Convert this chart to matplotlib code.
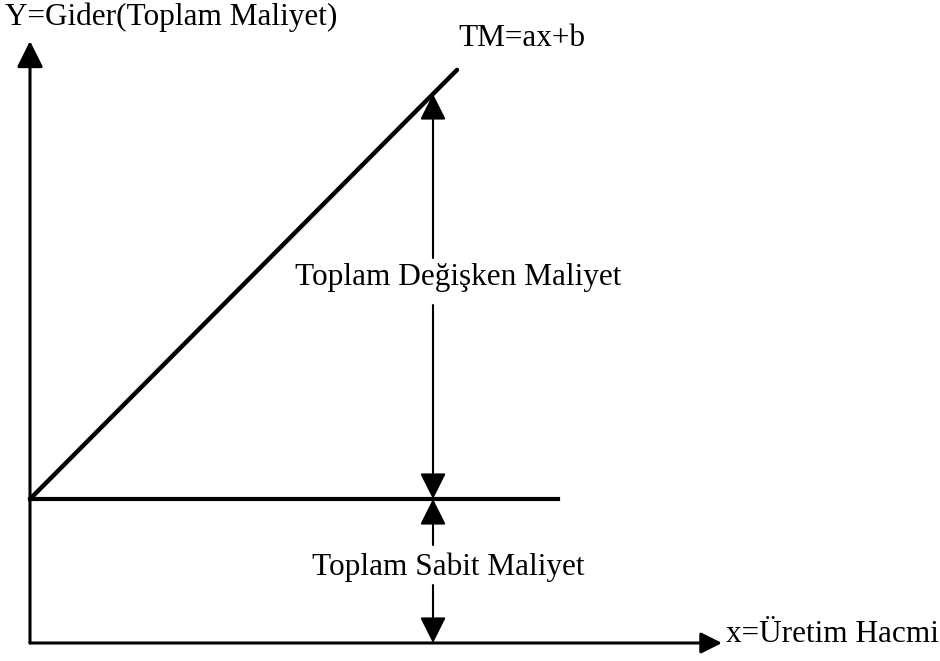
import matplotlib
matplotlib.use("Agg")
import matplotlib.pyplot as plt

# Maliyet modeli: TM = a*x + b  (birimler keyfi)
SABIT_MALIYET = 1.44        # b
EGIM = 1.005                # a
X_TM_SON = 4.27             # TM dogrusunun bittigi uretim hacmi
X_SABIT_SON = 5.28          # sabit maliyet cizgisinin bittigi nokta
X_OLCU = 4.03               # olcu oklarinin cizildigi uretim hacmi
Y_EKSEN_SON = 6.02
X_EKSEN_SON = 6.92

ETIKET_Y = "Y=Gider(Toplam Maliyet)"
ETIKET_X = "x=Üretim Hacmi"
ETIKET_TM = "TM=ax+b"
ETIKET_DEGISKEN = "Toplam Değişken Maliyet"
ETIKET_SABIT = "Toplam Sabit Maliyet"

plt.rcParams["font.family"] = ["Liberation Serif", "DejaVu Serif"]


def ok(ax, x0, y0, x1, y1, lw=1.5, boy=20):
    ax.annotate(
        "",
        xy=(x1, y1),
        xytext=(x0, y0),
        arrowprops=dict(
            arrowstyle="-|>,head_length=0.8,head_width=0.4",
            mutation_scale=boy,
            lw=lw,
            color="black",
            shrinkA=0,
            shrinkB=0,
        ),
    )


def main():
    fig = plt.figure(figsize=(9.4, 6.61), dpi=100)
    ax = fig.add_axes([0, 0, 1, 1])
    ax.set_xlim(-0.30, 9.10)
    ax.set_ylim(-0.18, 6.43)
    ax.axis("off")

    # eksenler
    ok(ax, 0, 0, 0, Y_EKSEN_SON, lw=2.2)
    ok(ax, 0, 0, X_EKSEN_SON, 0, lw=2.2, boy=16)

    # toplam maliyet dogrusu
    ax.plot([0, X_TM_SON], [SABIT_MALIYET, SABIT_MALIYET + EGIM * X_TM_SON],
            color="black", lw=3.2, solid_capstyle="round")
    # sabit maliyet cizgisi
    ax.plot([0, X_SABIT_SON], [SABIT_MALIYET, SABIT_MALIYET],
            color="black", lw=3.0)

    tm_olcu = SABIT_MALIYET + EGIM * X_OLCU
    # degisken maliyet olcu oklari
    ok(ax, X_OLCU, 3.85, X_OLCU, tm_olcu)
    ok(ax, X_OLCU, 3.38, X_OLCU, SABIT_MALIYET)
    # sabit maliyet olcu oklari
    ok(ax, X_OLCU, 0.98, X_OLCU, SABIT_MALIYET)
    ok(ax, X_OLCU, 0.58, X_OLCU, 0)

    fs = 22.5
    ax.text(-0.25, 6.26, ETIKET_Y, fontsize=fs, ha="left", va="center")
    ax.text(4.28, 6.04, ETIKET_TM, fontsize=fs, ha="left", va="center")
    ax.text(4.28, 3.65, ETIKET_DEGISKEN, fontsize=fs, ha="center", va="center")
    ax.text(4.18, 0.76, ETIKET_SABIT, fontsize=fs, ha="center", va="center")
    ax.text(6.96, 0.09, ETIKET_X, fontsize=fs, ha="left", va="center")

    fig.savefig("out.png", dpi=100, facecolor="white")
    plt.close(fig)


if __name__ == "__main__":
    main()
